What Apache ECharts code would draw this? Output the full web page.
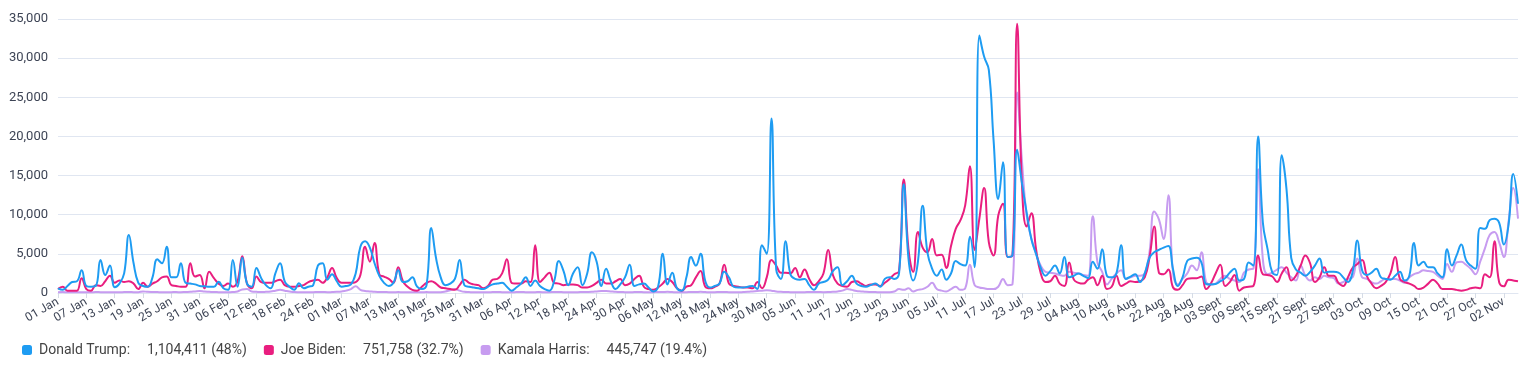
<!DOCTYPE html>
<html>
<head>
<meta charset="utf-8">
<script src="https://cdn.jsdelivr.net/npm/echarts@6/dist/echarts.min.js"></script>
<style>
html,body{margin:0;padding:0;background:#fff;}
#chart{width:1527px;height:372px;}
</style>
</head>
<body>
<div id="chart"></div>
<script>
// ---- data ----
const startDay = [2024, 0, 1];
const dayCount = 310;
const monthNames = ['Jan','Feb','Mar','Apr','May','Jun','Jul','Aug','Sept','Oct','Nov','Dec'];
const yTicks = [0, 5000, 10000, 15000, 20000, 25000, 30000, 35000];

const seriesNames = ['Donald Trump', 'Joe Biden', 'Kamala Harris'];
const seriesTotals = ['1,104,411 (48%)', '751,758 (32.7%)', '445,747 (19.4%)'];

const trump = [
600,400,900,1400,1500,2900,900,800,900,4200,
2300,3500,750,1200,2500,7400,3800,1300,900,800,
2000,4300,3800,5900,2000,2000,3800,1300,1200,1100,
900,850,800,800,1450,600,400,4200,800,4500,
1200,800,3200,1900,1000,600,2500,3800,1450,800,
400,1250,600,800,1000,3500,3800,1700,2400,1500,
800,900,1100,2500,5900,6600,5800,3800,2200,1300,
900,1300,2900,1400,1500,2000,800,500,1000,8300,
4500,2000,1000,1200,1800,4200,1000,800,700,600,
500,800,1100,1200,1300,800,300,700,1200,2000,
900,1600,900,500,300,1500,4100,2800,1000,2500,
3300,1000,2500,5200,4000,900,3100,1500,500,1100,
2000,3600,900,1100,1200,700,200,800,5000,1100,
2600,600,300,2000,4600,3500,5000,1500,700,900,
1200,2700,2000,800,700,700,800,900,500,6100,
5000,22300,3000,1800,6600,2400,1800,1700,1800,1000,
400,1200,1400,1700,2800,3300,1000,1500,2200,1200,
900,800,1000,1200,800,1800,2000,1800,2500,13900,
4400,1600,4000,11150,5200,3100,2200,3000,1700,2500,
4100,3700,3500,7200,3300,32900,30200,28500,19600,12000,
16700,4600,4800,18300,14100,10300,6900,5000,3200,2200,
2800,3500,2500,4600,2000,2200,2500,2200,1900,4000,
3100,5600,2200,2000,2500,6100,1800,2100,2400,1400,
2500,4500,5200,5500,5800,6000,3000,900,2000,4100,
4400,4500,3900,1150,1100,1150,1500,1900,2600,3100,
1600,1800,3900,3500,20000,9000,5600,2600,2300,17600,
13300,4500,3000,2600,2200,2700,3500,4400,2600,2700,
2700,2600,2000,1400,2700,6700,2900,2300,2600,3100,
2000,1800,1700,2200,2700,1600,2200,6400,3500,4000,
3300,3300,2500,2000,5600,3500,4800,6200,4200,3500,
3100,8300,8200,9300,9500,9000,6200,8700,15200,11400
];

const biden = [
500,800,300,300,300,1900,500,300,1000,900,
1500,2200,1300,1600,1400,1500,1200,500,1300,800,
1200,1500,2000,2100,1000,900,800,800,3800,2100,
2300,600,2700,1900,1200,900,1200,800,1500,4700,
1200,600,2100,1400,1300,1300,1500,1700,1000,800,
800,900,1000,1400,1600,1700,1300,2000,3200,1900,
1300,1300,1300,1400,2300,5900,4000,6400,2400,2100,
1800,1300,3300,1500,800,400,300,800,1300,1500,
1200,700,600,500,400,1000,1700,1300,1100,1000,
600,900,1700,1800,2500,4300,1300,1200,1200,1500,
1400,6100,1400,2000,2600,1300,1200,1000,1100,1100,
1000,700,700,900,1300,1700,1200,1200,1500,1800,
1000,1200,1800,2200,800,500,400,700,1200,1800,
1400,600,300,800,1000,2000,2800,800,600,800,
1200,3600,1200,900,800,700,700,600,1400,600,
2000,4200,3500,2600,2600,2500,3200,2000,3000,1800,
1000,1500,2500,5500,2300,1200,900,800,1400,1500,
1200,900,1100,1100,900,1300,1800,2400,2800,14500,
5600,2700,7800,5800,5200,6900,4800,4900,3200,6000,
8200,9300,11200,16200,5500,9500,13400,6500,4800,9900,
11400,4600,4800,34400,14000,8500,10200,5600,2500,1400,
1500,2200,1200,900,3900,1700,1300,1200,1700,2000,
1000,2200,500,800,2200,900,1200,1500,1400,1500,
2000,4500,8500,2600,2400,3000,700,400,1000,1800,
1900,1900,2100,500,1200,2500,3600,900,1400,2300,
300,700,800,900,4800,2400,2300,2100,1400,2500,
3300,1600,2200,3500,4800,3800,1400,2000,3300,2200,
2200,1300,900,2000,3200,3700,4200,2200,1200,600,
900,1400,2500,4600,1800,1400,1200,900,500,700,
1200,1700,1200,500,500,500,400,300,400,600,
700,600,2400,2000,6600,1400,850,1700,1600,1500
];

const harris = [
100,120,100,90,110,100,90,100,120,110,
100,90,110,100,120,130,110,100,200,150,
130,120,100,100,110,120,100,130,150,200,
250,180,150,120,110,100,100,130,200,450,
500,200,150,120,150,200,300,400,300,200,
120,100,90,100,110,120,130,100,120,150,
200,300,500,850,400,250,200,150,130,120,
110,100,120,100,100,110,100,100,120,100,
100,110,200,350,500,300,150,120,100,100,
110,100,120,130,110,100,100,120,130,110,
100,110,120,100,100,130,120,110,100,100,
110,120,130,150,200,250,250,200,150,120,
110,100,120,130,100,100,110,120,130,150,
120,100,100,110,120,130,150,120,100,110,
120,130,110,100,100,120,150,200,250,300,
350,300,200,150,120,110,100,100,110,120,
130,120,110,120,150,200,300,500,400,250,
200,150,130,120,100,100,100,200,500,400,
600,200,400,500,800,1300,500,300,200,500,
800,400,600,3600,1000,700,600,500,500,800,
1800,1000,1100,25600,17000,9900,7000,5000,3500,2700,
2600,2500,2300,2200,2700,2600,2500,2300,2200,9800,
3900,2700,1100,1800,2500,2900,1800,2000,2200,2200,
2500,5200,10400,9400,6900,12500,2500,1100,1800,2500,
3500,2900,5200,1400,1100,1200,1800,2200,1800,1600,
1400,2600,3000,3100,15800,4300,2400,2600,3000,3300,
2600,2000,1600,3500,2200,1600,2000,1800,2200,2000,
1900,1200,1400,1800,2000,4400,2000,1800,1400,1200,
1500,1800,1800,1800,1600,1300,2000,2400,2600,2900,
2800,2700,2200,1800,3700,2700,3900,4000,3600,3100,
2400,4000,5700,7400,7800,6500,4600,9100,13400,9500
];

const colors = ['#1E9CF2', '#E91E7F', '#C79CF0'];

// ---- build categories ----
const categories = [];
const t0 = Date.UTC(startDay[0], startDay[1], startDay[2]);
for (let i = 0; i < dayCount; i++) {
  const d = new Date(t0 + i * 86400000);
  const dd = String(d.getUTCDate()).padStart(2, '0');
  categories.push(dd + ' ' + monthNames[d.getUTCMonth()]);
}

const chart = echarts.init(document.getElementById('chart'), null, {renderer: 'canvas'});
const font = 'Roboto, "Noto Sans", sans-serif';

const seriesData = [trump, biden, harris];
const series = seriesNames.map((n, k) => ({
  name: n,
  type: 'line',
  data: seriesData[k],
  smooth: 0.45,
  showSymbol: false,
  symbol: 'none',
  z: 4 - k,
  lineStyle: {width: 2, color: colors[k]},
  itemStyle: {color: colors[k]}
}));

chart.setOption({
  animation: false,
  color: colors,
  textStyle: {fontFamily: font},
  grid: {left: 58, right: 9, top: 19, bottom: 79, containLabel: false},
  legend: {
    left: 22, top: 343, padding: 0,
    itemWidth: 10, itemHeight: 10, itemGap: 17,
    icon: 'roundRect',
    data: seriesNames,
    formatter: function (name) {
      const k = seriesNames.indexOf(name);
      return '{n|' + name + ':}{v|' + seriesTotals[k] + '}';
    },
    textStyle: {
      fontFamily: font,
      rich: {
        n: {fontSize: 14, color: '#444', fontFamily: font, padding: [0, 0, 0, 2]},
        v: {fontSize: 14, color: '#444', fontFamily: font, padding: [0, 0, 0, 17]}
      }
    }
  },
  xAxis: {
    type: 'category',
    data: categories,
    boundaryGap: false,
    axisLine: {show: true, lineStyle: {color: '#E0E6F1'}},
    axisTick: {show: true, interval: 5, length: 5, lineStyle: {color: '#D6DCE6'}},
    axisLabel: {
      interval: 5, rotate: 30, color: '#3D4455', fontSize: 12, fontFamily: font, margin: 8
    }
  },
  yAxis: {
    type: 'value',
    min: yTicks[0], max: yTicks[yTicks.length - 1], interval: yTicks[1] - yTicks[0],
    axisLine: {show: false},
    axisTick: {show: false},
    splitLine: {lineStyle: {color: '#E0E6F1'}},
    axisLabel: {
      color: '#3D4455', fontSize: 13, fontFamily: font, margin: 10,
      formatter: v => v.toLocaleString('en-US')
    }
  },
  series: series
});
</script>
</body>
</html>
